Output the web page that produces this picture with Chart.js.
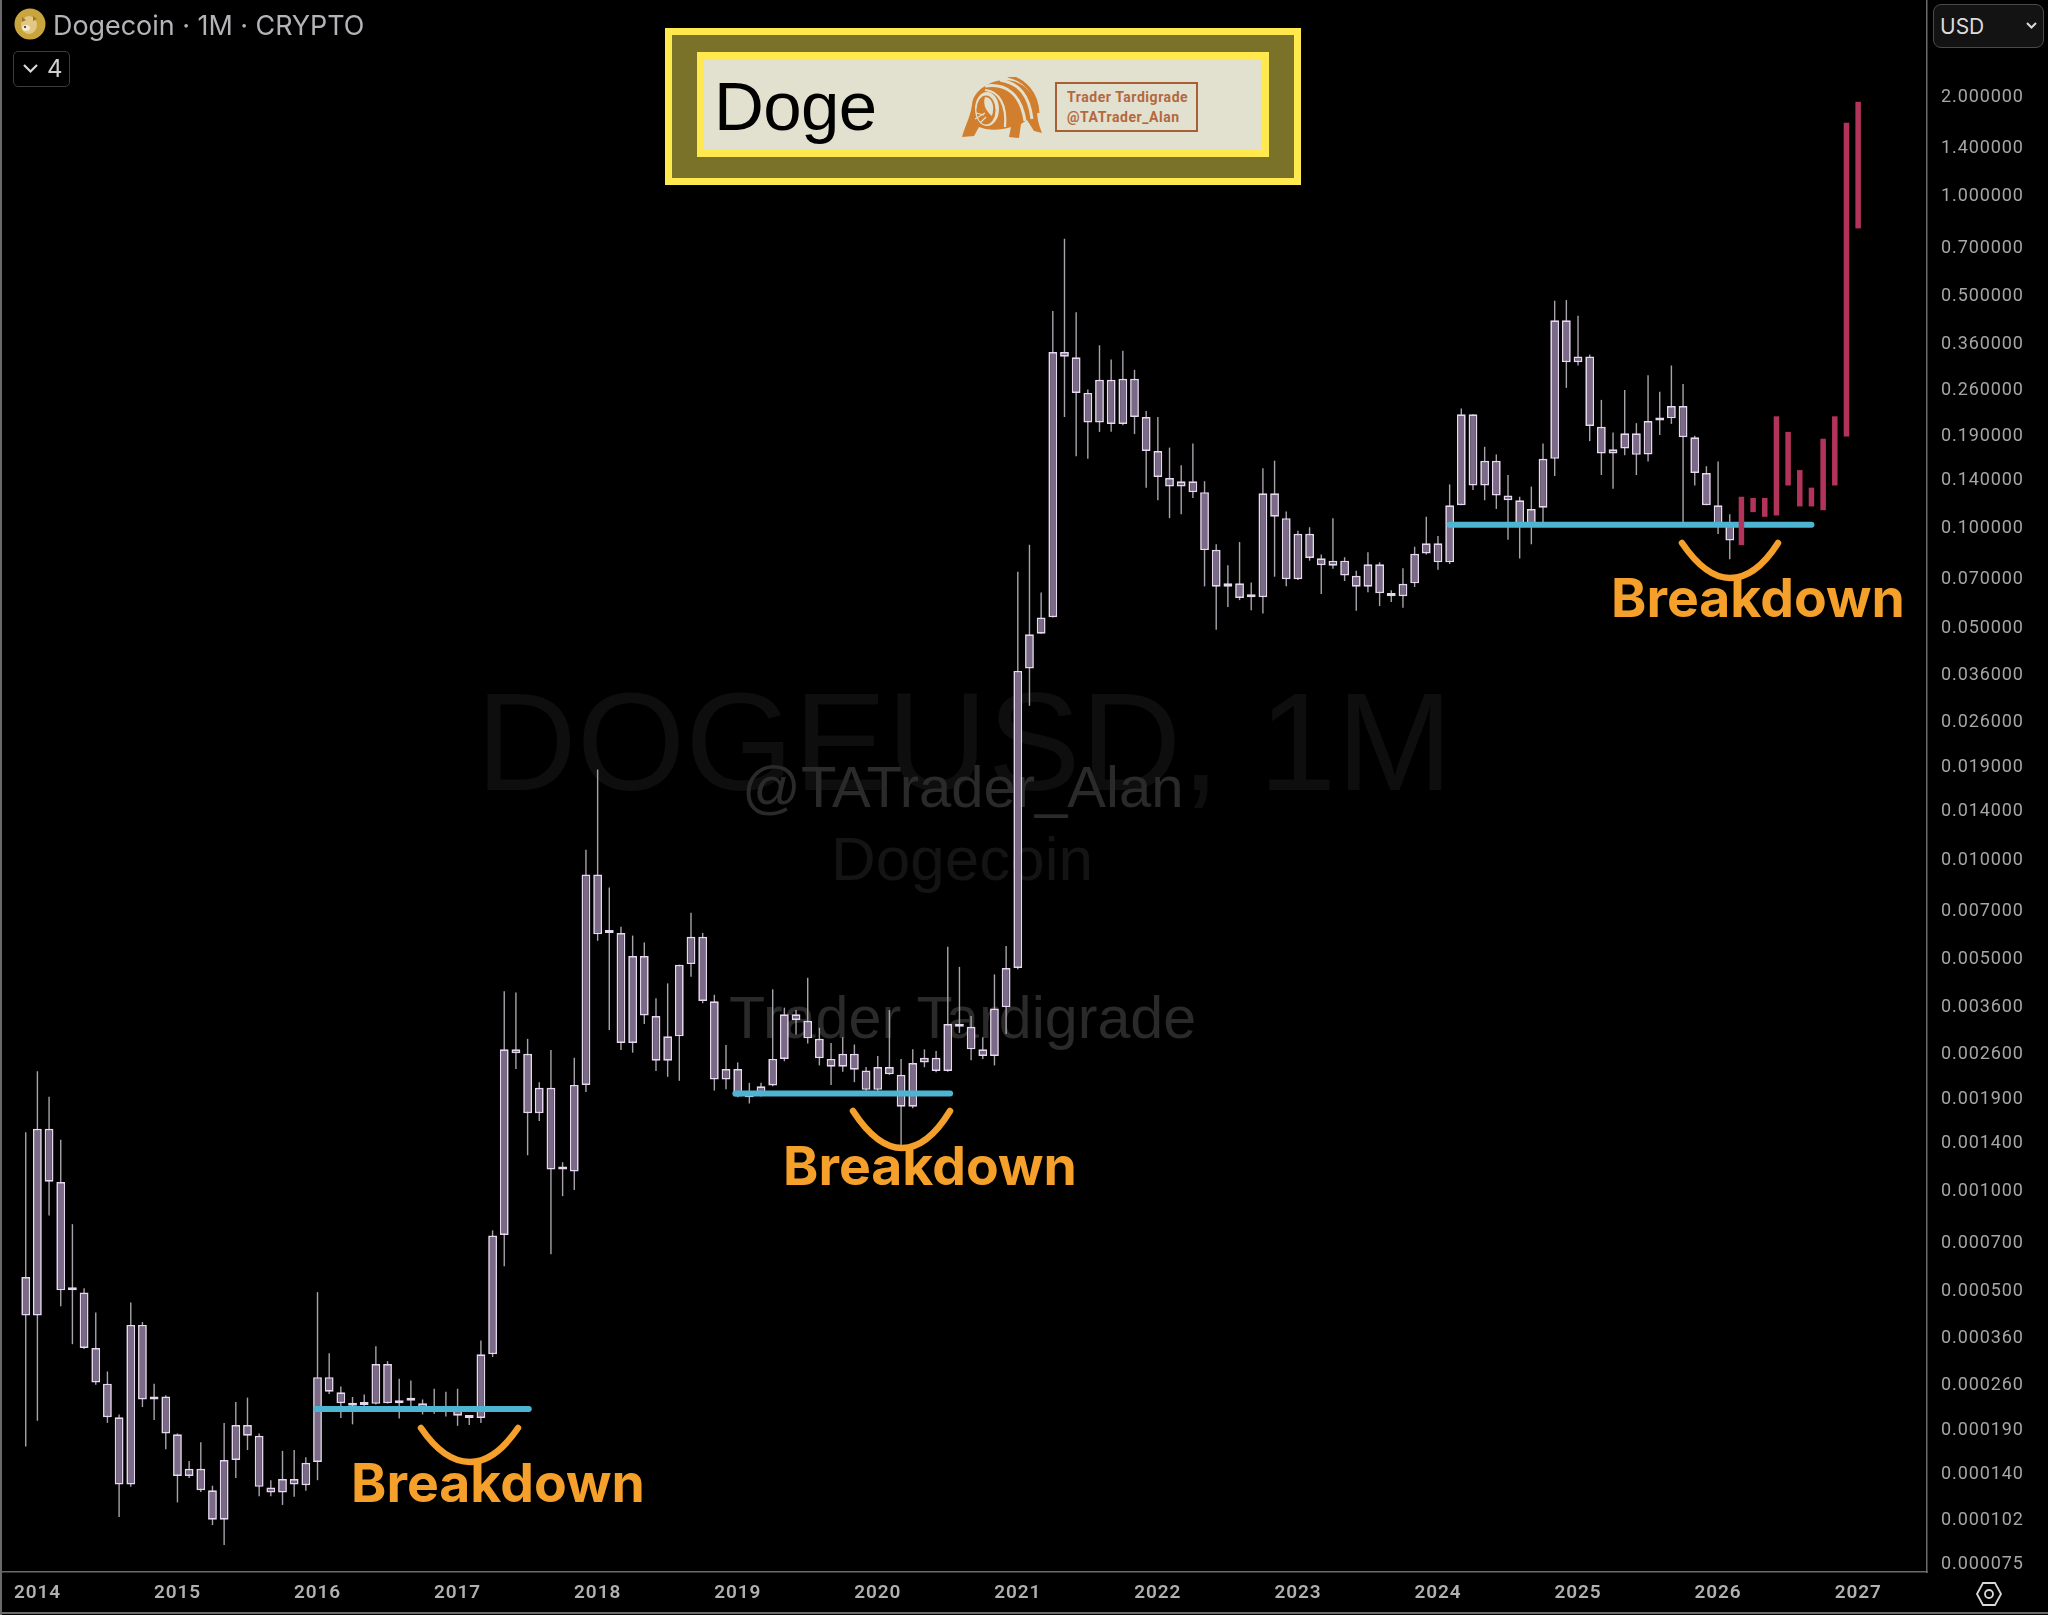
<!DOCTYPE html>
<html>
<head>
<meta charset="utf-8">
<title>Dogecoin 1M</title>
<script src="https://cdn.jsdelivr.net/npm/chart.js@4/dist/chart.umd.min.js"></script>
<style>
html,body{margin:0;padding:0;background:#000;width:2048px;height:1615px;overflow:hidden}
#wrap{position:relative;width:2048px;height:1615px;background:#000}
.t{position:absolute;white-space:pre;line-height:1}
canvas{position:absolute;left:0;top:0;z-index:2}
.wm{z-index:1;font-family:"Liberation Sans",Arial,sans-serif}
.top{z-index:3}
.bd{z-index:3;position:absolute;white-space:pre;font:700 53.5px/1 Inter,sans-serif;color:#f5a02a}
.box{position:absolute;box-sizing:border-box}
</style>
</head>
<body>
<div id="wrap">
  <div class="t wm" style="left:476px;top:673px;font-size:139.5px;color:#0e0e0e">DOGEUSD, 1M</div>
  <div class="t wm" style="left:742px;top:758px;font-size:58px;color:#2a2a2a">@TATrader_Alan</div>
  <div class="t wm" style="left:831px;top:828px;font-size:62px;color:#141414">Dogecoin</div>
  <div class="t wm" style="left:729px;top:988px;font-size:59.2px;color:#2a2a2a">Trader Tardigrade</div>
  <canvas id="c" width="2048" height="1615"></canvas>

  <!-- header -->
  <svg class="top" style="position:absolute;left:14px;top:8px" width="32" height="32" viewBox="0 0 32 32">
    <circle cx="16" cy="16" r="15.5" fill="#c8a63d"/>
    <ellipse cx="15" cy="17" rx="8" ry="9" fill="#e2c785"/>
    <ellipse cx="12" cy="20" rx="4" ry="3" fill="#f4ecd2"/>
    <path d="M8 9 L12 12 L8 14Z M19 8 L23 11 L19 13Z" fill="#9a7a2a"/>
    <circle cx="11" cy="19" r="1.1" fill="#3a2c10"/>
  </svg>
  <div class="t top" style="left:53px;top:12px;font:400 26.9px/1 Inter,sans-serif;color:#b4b4b8">Dogecoin · 1M · CRYPTO</div>
  <div class="box top" style="left:13px;top:51px;width:57px;height:36px;border:1.5px solid #3c3c3e;border-radius:5px"></div>
  <svg class="top" style="position:absolute;left:22px;top:62px" width="18" height="14"><path d="M2 3 L8.5 9.5 L15 3" fill="none" stroke="#d8d8d8" stroke-width="2.2"/></svg>
  <div class="t top" style="left:47px;top:57px;font:400 24px/1 Inter,sans-serif;color:#d0d0d0">4</div>

  <!-- USD -->
  <div class="box top" style="left:1933px;top:4px;width:111px;height:44px;background:#131313;border:1.5px solid #4a4a4c;border-radius:8px"></div>
  <div class="t top" style="left:1940px;top:16px;font:400 21px/1 Inter,sans-serif;color:#dcdcdc">USD</div>
  <svg class="top" style="position:absolute;left:2025px;top:21px" width="13" height="10"><path d="M2 2 L6.5 6.5 L11 2" fill="none" stroke="#d8d8d8" stroke-width="2"/></svg>

  <!-- banner -->
  <div class="box top" style="left:665px;top:28px;width:636px;height:157px;background:#7a7228;border:7px solid #ffe94f"></div>
  <div class="box top" style="left:697px;top:52px;width:572px;height:105px;background:#e2e0ce;border:7px solid #ffe94f"></div>
  <div class="t top" style="left:714px;top:72px;font:400 69px/1 'Liberation Sans',Arial,sans-serif;letter-spacing:-.6px;color:#000">Doge</div>
  <svg class="top" style="position:absolute;left:961px;top:77px" width="81" height="62" viewBox="0 0 81 62">
    <path d="M1 60 C5 46 9 41 11 28 C12 13 30 3 44 3 C60 3 74 15 76 32 C76 42 78 48 81 56 L73 54 L66 43 L60 47 L58 61 L48 60 L50 50 C38 54 25 53 18 50 L13 59Z" fill="#d17f2e"/>
    <path d="M24 9 C46 6 60 18 64 44 M39 3 C58 6 68 18 71 42" fill="none" stroke="#e2e0ce" stroke-width="3"/>
    <path d="M47 -1 C64 3 76 16 77 36" fill="none" stroke="#d17f2e" stroke-width="3"/>
    <path d="M24 13 C38 14 46 28 44 50" fill="none" stroke="#e2e0ce" stroke-width="2.2"/>
    <ellipse cx="26" cy="32" rx="12" ry="17" fill="#e2e0ce"/>
    <ellipse cx="25" cy="33" rx="9.6" ry="14.5" fill="#d17f2e"/>
    <path d="M24 20 C31 20 34 29 31 39 C27 36 21 29 24 20Z" fill="#e2e0ce"/>
    <path d="M14 42 L24 36 M15 36 L23 38 M19 46 L25 40" stroke="#e2e0ce" stroke-width="1.2"/>
  </svg>
  <div class="box top" style="left:1055px;top:82px;width:143px;height:50px;border:2px solid #a95f35"></div>
  <div class="t top" style="left:1067px;top:90px;font:700 14px/1 Roboto,sans-serif;letter-spacing:.55px;color:#b3693e">Trader Tardigrade</div>
  <div class="t top" style="left:1067px;top:110px;font:700 14px/1 Roboto,sans-serif;letter-spacing:.55px;color:#b3693e">@TATrader_Alan</div>

  <!-- breakdown notes -->
  <svg class="top" style="position:absolute;left:0;top:0" width="2048" height="1615">
    <g fill="none" stroke="#f5a02a" stroke-width="6.5" stroke-linecap="round">
      <path d="M421 1428 C436 1450 452 1462 470 1462 C488 1462 503 1450 518 1428"/>
      <path d="M853 1111 C868 1134 885 1148 902 1148 C920 1148 936 1134 950 1111"/>
      <path d="M1682 543 C1697 565 1713 578 1730 578 C1748 578 1764 565 1778 543"/>
    </g>
    <g fill="none" stroke="#d8d8d8" stroke-width="1.8">
      <path d="M1977 1594 L1983 1583 L1995 1583 L2001 1594 L1995 1605 L1983 1605Z"/>
      <circle cx="1989" cy="1594" r="4"/>
    </g>
  </svg>
  <div class="bd" style="left:351px;top:1456px">Breakdown</div>
  <div class="bd" style="left:783px;top:1139px">Breakdown</div>
  <div class="bd" style="left:1611px;top:571px">Breakdown</div>
  <div class="box top" style="left:0;top:0;width:2px;height:1615px;background:#6a6a6a"></div>
  <div class="box top" style="left:0;top:1612px;width:2048px;height:2px;background:#6a6a6a"></div>
</div>
<script>
// Candles run monthly from Dec 2013 (month index -1) to Feb 2026 (index 145).
const firstMonth = -1;
const bodyTop = [
5.45e-4,1.526e-3,1.526e-3,1.054e-3,4.99e-4,4.90e-4,3.33e-4,2.60e-4,2.06e-4,3.91e-4,3.91e-4,2.38e-4,2.38e-4,
1.83e-4,1.44e-4,1.44e-4,1.24e-4,1.53e-4,1.95e-4,1.95e-4,1.81e-4,1.265e-4,1.34e-4,1.34e-4,1.50e-4,
2.72e-4,2.72e-4,2.45e-4,2.27e-4,2.25e-4,2.98e-4,2.98e-4,2.31e-4,2.33e-4,2.27e-4,2.16e-4,2.21e-4,
2.21e-4,2.07e-4,3.19e-4,7.27e-4,2.65e-3,2.65e-3,2.57e-3,2.03e-3,2.03e-3,1.16e-3,2.07e-3,8.93e-3,
8.93e-3,5.97e-3,5.94e-3,5.07e-3,5.07e-3,3.34e-3,2.90e-3,4.77e-3,5.79e-3,5.79e-3,3.70e-3,2.31e-3,
2.31e-3,1.91e-3,2.05e-3,2.48e-3,3.38e-3,3.38e-3,3.23e-3,2.85e-3,2.48e-3,2.57e-3,2.57e-3,2.29e-3,
2.345e-3,2.345e-3,2.22e-3,2.41e-3,2.50e-3,2.50e-3,3.16e-3,3.16e-3,3.10e-3,2.65e-3,3.52e-3,4.66e-3,
3.67e-2,4.73e-2,5.32e-2,3.36e-1,3.36e-1,3.24e-1,2.53e-1,2.77e-1,2.77e-1,2.79e-1,2.79e-1,2.14e-1,
1.69e-1,1.40e-1,1.37e-1,1.37e-1,1.27e-1,8.51e-2,6.74e-2,6.74e-2,6.14e-2,1.26e-1,1.26e-1,1.06e-1,
9.51e-2,9.51e-2,8.02e-2,7.89e-2,7.89e-2,7.10e-2,7.69e-2,7.69e-2,6.30e-2,6.72e-2,8.28e-2,8.90e-2,
8.90e-2,1.16e-1,2.18e-1,2.18e-1,1.58e-1,1.58e-1,1.24e-1,1.20e-1,1.13e-1,1.60e-1,4.19e-1,4.19e-1,
3.26e-1,3.26e-1,2.00e-1,1.71e-1,1.91e-1,1.91e-1,2.08e-1,2.12e-1,2.31e-1,2.31e-1,1.86e-1,1.45e-1,
1.16e-1,1.02e-1];
const bodyBottom = [
4.174e-4,4.174e-4,1.057e-3,4.97e-4,4.97e-4,3.33e-4,2.62e-4,2.06e-4,1.29e-4,1.29e-4,2.33e-4,2.33e-4,1.84e-4,
1.37e-4,1.37e-4,1.24e-4,1.01e-4,1.01e-4,1.53e-4,1.81e-4,1.27e-4,1.22e-4,1.22e-4,1.29e-4,1.285e-4,
1.51e-4,2.46e-4,2.27e-4,2.23e-4,2.24e-4,2.26e-4,2.27e-4,2.27e-4,2.31e-4,2.18e-4,2.14e-4,2.14e-4,
2.08e-4,2.05e-4,2.05e-4,3.19e-4,7.3e-4,2.58e-3,1.70e-3,1.70e-3,1.15e-3,1.15e-3,1.135e-3,2.07e-3,
5.89e-3,5.94e-3,2.77e-3,2.77e-3,3.35e-3,2.45e-3,2.45e-3,2.90e-3,4.79e-3,3.71e-3,2.15e-3,2.15e-3,
1.91e-3,1.90e-3,1.96e-3,2.06e-3,2.48e-3,3.25e-3,2.86e-3,2.49e-3,2.35e-3,2.35e-3,2.30e-3,2.00e-3,
2.00e-3,2.23e-3,1.78e-3,1.78e-3,2.42e-3,2.28e-3,2.28e-3,3.10e-3,2.65e-3,2.53e-3,2.53e-3,3.55e-3,
4.66e-3,3.73e-2,4.75e-2,5.33e-2,3.25e-1,2.53e-1,2.06e-1,2.06e-1,2.04e-1,2.04e-1,2.14e-1,1.69e-1,
1.41e-1,1.32e-1,1.32e-1,1.27e-1,8.49e-2,6.58e-2,6.58e-2,6.09e-2,6.12e-2,6.12e-2,1.07e-1,6.94e-2,
6.94e-2,8.04e-2,7.64e-2,7.62e-2,7.12e-2,6.58e-2,6.58e-2,6.29e-2,6.16e-2,6.16e-2,6.74e-2,8.30e-2,
7.80e-2,7.80e-2,1.16e-1,1.33e-1,1.33e-1,1.24e-1,1.20e-1,1.00e-1,1.00e-1,1.14e-1,1.60e-1,3.13e-1,
3.13e-1,2.01e-1,1.66e-1,1.66e-1,1.72e-1,1.645e-1,1.65e-1,2.09e-1,2.12e-1,1.86e-1,1.45e-1,1.16e-1,
1.02e-1,9.08e-2];
const wickHigh = [
1.489e-3,2.278e-3,1.908e-3,1.414e-3,7.87e-4,5.04e-4,4.26e-4,2.83e-4,2.10e-4,4.57e-4,3.99e-4,2.60e-4,2.40e-4,
1.84e-4,1.52e-4,1.73e-4,1.28e-4,1.98e-4,2.29e-4,2.36e-4,1.84e-4,1.33e-4,1.63e-4,1.64e-4,1.56e-4,
4.91e-4,3.21e-4,2.55e-4,2.37e-4,2.41e-4,3.37e-4,3.04e-4,2.69e-4,2.66e-4,2.33e-4,2.51e-4,2.46e-4,
2.51e-4,2.09e-4,3.51e-4,7.54e-4,3.97e-3,3.93e-3,2.85e-3,2.11e-3,2.64e-3,1.21e-3,2.50e-3,1.06e-2,
1.85e-2,8.16e-3,6.21e-3,5.84e-3,5.57e-3,3.78e-3,4.19e-3,4.77e-3,6.84e-3,5.95e-3,3.87e-3,2.73e-3,
2.42e-3,2.10e-3,2.10e-3,4.02e-3,3.54e-3,3.48e-3,4.36e-3,3.08e-3,2.77e-3,2.88e-3,2.74e-3,2.345e-3,
2.53e-3,3.48e-3,2.48e-3,2.65e-3,2.65e-3,2.62e-3,5.40e-3,4.70e-3,3.34e-3,2.88e-3,4.46e-3,5.43e-3,
7.31e-2,8.81e-2,6.32e-2,4.47e-1,7.38e-1,4.43e-1,2.59e-1,3.52e-1,3.19e-1,3.39e-1,2.97e-1,2.23e-1,
2.14e-1,1.73e-1,1.53e-1,1.78e-1,1.37e-1,8.85e-2,7.64e-2,8.98e-2,6.78e-2,1.50e-1,1.58e-1,1.11e-1,
9.72e-2,9.95e-2,8.24e-2,1.06e-1,8.08e-2,7.36e-2,8.36e-2,7.80e-2,6.43e-2,7.48e-2,8.69e-2,1.07e-1,
9.36e-2,1.34e-1,2.27e-1,2.18e-1,1.74e-1,1.65e-1,1.43e-1,1.23e-1,1.32e-1,1.78e-1,4.80e-1,4.82e-1,
4.32e-1,3.30e-1,2.41e-1,1.92e-1,2.58e-1,2.05e-1,2.86e-1,2.55e-1,3.06e-1,2.69e-1,1.88e-1,1.52e-1,
1.57e-1,1.09e-1];
const wickLow = [
1.680e-4,2.011e-4,8.36e-4,4.45e-4,3.42e-4,3.31e-4,2.58e-4,1.98e-4,1.03e-4,1.27e-4,2.21e-4,2.02e-4,1.65e-4,
1.14e-4,1.35e-4,1.225e-4,9.74e-5,8.48e-5,1.35e-4,1.64e-4,1.19e-4,1.19e-4,1.12e-4,1.185e-4,1.235e-4,
1.33e-4,2.42e-4,2.05e-4,1.96e-4,2.19e-4,2.25e-4,2.265e-4,2.04e-4,2.19e-4,2.10e-4,2.11e-4,2.07e-4,
1.94e-4,1.95e-4,1.98e-4,3.13e-4,5.88e-4,2.31e-3,1.27e-3,1.61e-3,6.39e-4,9.56e-4,9.97e-4,1.97e-3,
5.63e-3,3.03e-3,2.64e-3,2.59e-3,3.16e-3,2.28e-3,2.19e-3,2.13e-3,4.39e-3,3.65e-3,1.99e-3,2.01e-3,
1.90e-3,1.82e-3,1.91e-3,2.05e-3,2.44e-3,2.94e-3,2.76e-3,2.37e-3,2.07e-3,2.27e-3,2.11e-3,1.97e-3,
1.96e-3,2.22e-3,1.35e-3,1.76e-3,2.34e-3,2.26e-3,2.27e-3,2.97e-3,2.455e-3,2.48e-3,2.37e-3,2.95e-3,
4.62e-3,2.88e-2,4.75e-2,5.32e-2,2.14e-1,1.63e-1,1.60e-1,1.93e-1,1.93e-1,2.02e-1,1.90e-1,1.31e-1,
1.20e-1,1.06e-1,1.09e-1,1.22e-1,6.60e-2,4.88e-2,5.72e-2,6.00e-2,5.59e-2,5.47e-2,7.06e-2,6.61e-2,
6.90e-2,7.89e-2,6.26e-2,7.46e-2,6.85e-2,5.57e-2,6.34e-2,5.76e-2,5.92e-2,5.69e-2,6.57e-2,8.24e-2,
7.41e-2,7.71e-2,1.16e-1,1.29e-1,1.20e-1,1.13e-1,9.13e-2,8.01e-2,8.84e-2,1.02e-1,1.42e-1,2.62e-1,
3.06e-1,1.81e-1,1.43e-1,1.30e-1,1.64e-1,1.43e-1,1.57e-1,1.89e-1,2.04e-1,1.02e-1,1.33e-1,1.16e-1,
9.50e-2,7.97e-2];
// Projected bars, Mar 2026 (index 146) to Jan 2027 (index 156)
const firstProjection = 146;
const projTop = [1.23e-1,1.22e-1,1.22e-1,2.15e-1,1.93e-1,1.48e-1,1.31e-1,1.84e-1,2.15e-1,1.65,1.91];
const projBottom = [8.79e-2,1.105e-1,1.07e-1,1.08e-1,1.33e-1,1.15e-1,1.15e-1,1.12e-1,1.33e-1,1.87e-1,7.93e-1];
// Breakdown support levels: [start month, end month, price]
const supportLevels = [[23.9,42.1,2.18e-4],[59.8,78.2,1.95e-3],[121,152,1.012e-1]];
const yearLabels = [2014,2015,2016,2017,2018,2019,2020,2021,2022,2023,2024,2025,2026,2027];
const priceTicks = [2,1.4,1,0.7,0.5,0.36,0.26,0.19,0.14,0.1,0.07,0.05,0.036,0.026,0.019,0.014,0.01,0.007,0.005,0.0036,0.0026,0.0019,0.0014,0.001,0.0007,0.0005,0.00036,0.00026,0.00019,0.00014,0.000102,0.000075];

const toBars = (lo, hi, start) => lo.map((v, i) => ({x: start + i, y: [v, hi[i]]}));
const barBase = {type:'bar', grouped:false, barPercentage:1, categoryPercentage:1, inflateAmount:0};
const noPad = s => {s.paddingTop = 0; s.paddingBottom = 0; s.paddingLeft = 0; s.paddingRight = 0;};

new Chart(document.getElementById('c'), {
  data: {
    datasets: [
      ...supportLevels.map(([a, b, p]) => ({
        type:'line', data:[{x:a,y:p},{x:b,y:p}], borderColor:'#4db4d2', borderWidth:6,
        borderCapStyle:'round', pointRadius:0, order:2
      })),
      {...barBase, data:toBars(projBottom, projTop, firstProjection), backgroundColor:'#b2345a', maxBarThickness:5.5, order:1},
      {...barBase, data:toBars(bodyBottom, bodyTop, firstMonth), backgroundColor:'#7a6a88', borderColor:'#e6d8ee', borderWidth:1.7, borderSkipped:false, maxBarThickness:8.8, minBarLength:3, order:3},
      {...barBase, data:toBars(wickLow, wickHigh, firstMonth), backgroundColor:'#a8a3ab', maxBarThickness:1.4, order:4}
    ]
  },
  options: {
    responsive:false, animation:false, devicePixelRatio:1,
    layout:{padding:{left:2,right:0,top:0,bottom:0}},
    plugins:{legend:{display:false},tooltip:{enabled:false},title:{display:false}},
    scales:{
      x:{
        type:'linear', min:-3.033, max:161.9, offset:false,
        grid:{display:false,offset:false,drawTicks:false},
        border:{display:true,color:'#6a6a6a',width:1.5},
        afterFit(s){s.height=43; noPad(s);},
        afterBuildTicks(s){s.ticks = yearLabels.map(y => ({value:(y-2014)*12}));},
        ticks:{autoSkip:false,maxRotation:0,padding:10,color:'#b0b0b0',
          font:{family:'Roboto',size:19,weight:'600'},
          callback(v){return String(2014 + v/12);}}
      },
      y:{
        type:'logarithmic', position:'right', min:7.03e-5, max:3.873, bounds:'data',
        grid:{display:false,drawTicks:false},
        border:{display:true,color:'#6a6a6a',width:1.5},
        afterFit(s){s.width=121; noPad(s);},
        afterBuildTicks(s){s.ticks = priceTicks.map(v => ({value:v}));},
        ticks:{autoSkip:false,padding:14,labelOffset:2,color:'#a6a6a6',
          font:{family:'Roboto',size:18},
          callback(v){return Number(v).toFixed(6);}}
      }
    }
  },
  plugins:[{id:'spacing',beforeDraw(c){c.ctx.letterSpacing='0.9px';}}]
});
</script>
</body>
</html>
